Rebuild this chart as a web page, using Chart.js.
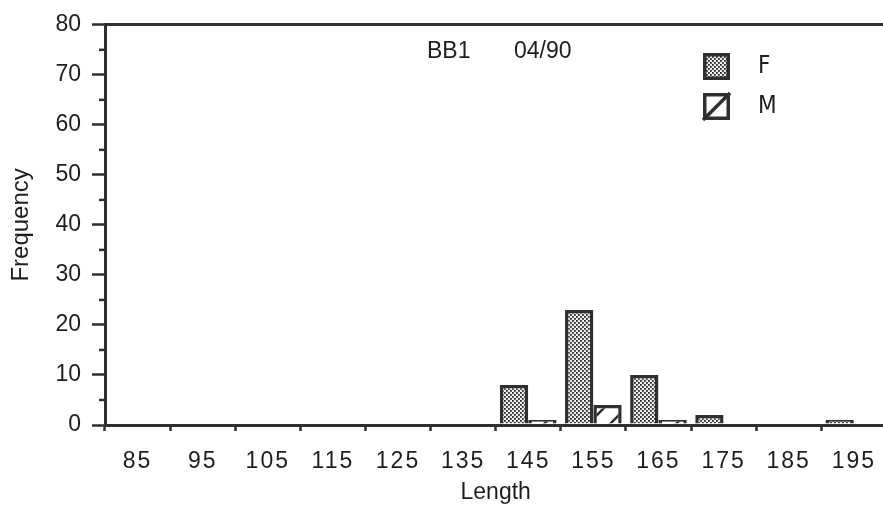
<!DOCTYPE html>
<html>
<head>
<meta charset="utf-8">
<script src="https://cdn.jsdelivr.net/npm/chart.js@4.4.1/dist/chart.umd.min.js"></script>
<style>
  html, body { margin: 0; padding: 0; background: #fff; overflow: hidden; }
  #wrap { width: 890px; height: 513px; }
</style>
</head>
<body>
<div id="wrap"><canvas id="lengthChart" width="890" height="513"></canvas></div>
<script>
// length classes (mm) and counts per sex
const lengths = ['85', '95', '105', '115', '125', '135', '145', '155', '165', '175', '185', '195'];
const femaleCounts = [0, 0, 0, 0, 0, 0, 8, 23, 10, 2, 0, 1];
const maleCounts = [0, 0, 0, 0, 0, 0, 1, 4, 1, 0, 0, 0];
const yTicks = [0, 10, 20, 30, 40, 50, 60, 70, 80];
const siteLabel = 'BB1';
const dateLabel = '04/90';

const ink = '#2f2f2f';
const sans = '"Liberation Sans", Arial, Helvetica, sans-serif';

// stippled fill for females
function dotPattern() {
    const c = document.createElement('canvas');
    c.width = 4; c.height = 4;
    const g = c.getContext('2d');
    g.fillStyle = '#eeeeee';
    g.fillRect(0, 0, 4, 4);
    g.fillStyle = '#2a2a2a';
    g.fillRect(0, 0, 1.8, 1.8);
    g.fillRect(2, 2, 1.8, 1.8);
    return g.createPattern(c, 'repeat');
}

// wide single-stroke hatch for males
function hatchPattern() {
    const s = 22;
    const c = document.createElement('canvas');
    c.width = s; c.height = s;
    const g = c.getContext('2d');
    g.fillStyle = '#fff';
    g.fillRect(0, 0, s, s);
    g.strokeStyle = ink;
    g.lineWidth = 2.5;
    g.beginPath();
    g.moveTo(-2, s + 2); g.lineTo(s + 2, -2);
    g.moveTo(-4, 4); g.lineTo(4, -4);
    g.moveTo(s - 4, s + 4); g.lineTo(s + 4, s - 4);
    g.stroke();
    return g.createPattern(c, 'repeat');
}

const femaleFill = dotPattern();
const maleFill = hatchPattern();

// x tick labels are drawn letter-spaced
const spacedLabels = {
    id: 'spacedLabels',
    afterLayout(chart) {
        const s = chart.scales.x;
        if (s._spaced) return;
        const orig = s.drawLabels;
        s.drawLabels = function (area) {
            this.ctx.save();
            this.ctx.letterSpacing = '2px';
            orig.call(this, area);
            this.ctx.restore();
        };
        s._spaced = true;
    }
};

// short minor ticks on the y axis between labelled ones
const minorTicks = {
    id: 'minorTicks',
    afterDraw(chart) {
        const y = chart.scales.y;
        const left = chart.chartArea.left;
        const ctx = chart.ctx;
        ctx.save();
        ctx.strokeStyle = ink;
        ctx.lineWidth = 2.5;
        for (let v = 5; v < 80; v += 10) {
            const py = y.getPixelForValue(v);
            ctx.beginPath();
            ctx.moveTo(left - 6, py);
            ctx.lineTo(left, py);
            ctx.stroke();
        }
        ctx.restore();
    }
};

// caption and key drawn inside the plot
const captionAndKey = {
    id: 'captionAndKey',
    afterDraw(chart) {
        const ctx = chart.ctx;
        ctx.save();
        ctx.fillStyle = '#1e1e1e';
        ctx.font = '23px ' + sans;
        ctx.textBaseline = 'middle';
        ctx.textAlign = 'left';
        ctx.fillText(siteLabel, 427, 52);
        ctx.fillText(dateLabel, 514, 52);

        const ds = chart.data.datasets;
        const boxX = 703, boxS = 27;
        const rows = [53, 93];
        ds.forEach((d, i) => {
            const by = rows[i];
            ctx.fillStyle = i === 0 ? d.backgroundColor : '#fff';
            ctx.fillRect(boxX, by, boxS, boxS);
            ctx.strokeStyle = ink;
            ctx.lineWidth = 3.5;
            if (i === 1) {
                ctx.beginPath();
                ctx.moveTo(boxX, by + boxS);
                ctx.lineTo(boxX + boxS, by);
                ctx.stroke();
            }
            ctx.strokeRect(boxX + 1.75, by + 1.75, boxS - 3.5, boxS - 3.5);
            ctx.fillStyle = '#1e1e1e';
            ctx.font = '24px "Liberation Sans Narrow", "DejaVu Sans Condensed", ' + sans;
            ctx.fillText(d.label, 758, by + boxS / 2);
        });
        ctx.restore();
    }
};

new Chart(document.getElementById('lengthChart'), {
    type: 'bar',
    data: {
        labels: lengths,
        datasets: [{
            label: 'F',
            data: femaleCounts,
            backgroundColor: femaleFill,
            borderColor: ink,
            borderWidth: 3.5,
            barPercentage: 1,
            categoryPercentage: 0.87
        }, {
            label: 'M',
            data: maleCounts,
            backgroundColor: maleFill,
            borderColor: ink,
            borderWidth: 3.5,
            barPercentage: 1,
            categoryPercentage: 0.87
        }]
    },
    options: {
        responsive: false,
        animation: false,
        devicePixelRatio: 1,
        layout: { padding: { top: 22, right: 0, left: 0, bottom: 0 } },
        plugins: {
            legend: { display: false },
            tooltip: { enabled: false }
        },
        scales: {
            x: {
                afterFit(scale) { scale.height = 88; },
                grid: {
                    drawOnChartArea: false,
                    tickLength: 6,
                    tickColor: ink,
                    tickWidth: 2.5
                },
                border: { color: ink, width: 3 },
                ticks: {
                    color: '#1e1e1e',
                    padding: 17,
                    font: { family: sans, size: 23 }
                },
                title: {
                    display: true,
                    text: 'Length',
                    color: '#1e1e1e',
                    font: { family: sans, size: 23 },
                    padding: { top: 0, bottom: 7 }
                }
            },
            y: {
                min: 0,
                max: 80,
                afterFit(scale) { scale.width = 105; },
                afterBuildTicks(scale) { scale.ticks = yTicks.map(v => ({ value: v })); },
                grid: {
                    color: ctx => (ctx.tick && ctx.tick.value === 80 ? ink : 'rgba(0,0,0,0)'),
                    lineWidth: 3,
                    tickLength: 13,
                    tickColor: ink,
                    tickWidth: 2.5
                },
                border: { color: ink, width: 3 },
                ticks: {
                    color: '#1e1e1e',
                    padding: 11,
                    font: { family: sans, size: 23 }
                },
                title: {
                    display: true,
                    text: 'Frequency',
                    color: '#1e1e1e',
                    font: { family: sans, size: 24 },
                    padding: { top: 7, bottom: 0 }
                }
            }
        }
    },
    plugins: [spacedLabels, minorTicks, captionAndKey]
});
</script>
</body>
</html>
